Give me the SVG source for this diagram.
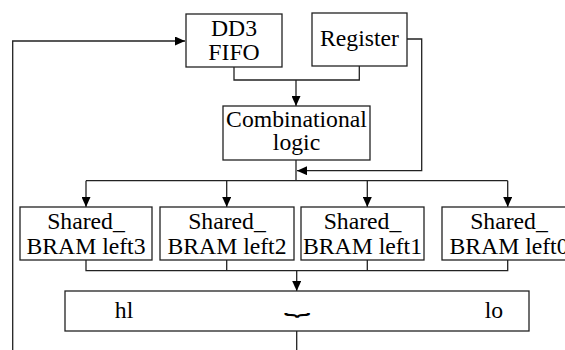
<svg xmlns="http://www.w3.org/2000/svg" width="565" height="350" viewBox="0 0 565 350">
<defs>
<marker id="ah" markerWidth="10" markerHeight="9" refX="10" refY="4.5" orient="auto" markerUnits="userSpaceOnUse">
<path d="M0,0 L10,4.5 L0,9 Z" fill="#000"/>
</marker>
<style>
.box{fill:#fff;stroke:#222;stroke-width:1.3}
.ln{fill:none;stroke:#222;stroke-width:1.3}
.t{font-size:23.7px;fill:#000;text-anchor:middle}
</style>
</defs>
<rect width="565" height="350" fill="#fff"/>
<g id="connectors">
<polyline class="ln" points="12.7,350 12.7,41 185,41" marker-end="url(#ah)"/>
<polyline class="ln" points="234,67 234,80 359.3,80 359.3,66"/>
<line class="ln" x1="296" y1="80" x2="296" y2="106" marker-end="url(#ah)"/>
<polyline class="ln" points="407,39 421.7,39 421.7,170.7 297,170.7" marker-end="url(#ah)"/>
<line class="ln" x1="296" y1="160" x2="296" y2="180.7"/>
<line class="ln" x1="86" y1="180.7" x2="507.7" y2="180.7"/>
<line class="ln" x1="86" y1="180.7" x2="86" y2="207" marker-end="url(#ah)"/>
<line class="ln" x1="226.7" y1="180.7" x2="226.7" y2="207" marker-end="url(#ah)"/>
<line class="ln" x1="367.3" y1="180.7" x2="367.3" y2="207" marker-end="url(#ah)"/>
<line class="ln" x1="507.7" y1="180.7" x2="507.7" y2="207" marker-end="url(#ah)"/>
<polyline class="ln" points="86,260 86,270.7 507.7,270.7 507.7,260"/>
<line class="ln" x1="226.7" y1="260" x2="226.7" y2="270.7"/>
<line class="ln" x1="367.3" y1="260" x2="367.3" y2="270.7"/>
<line class="ln" x1="296.7" y1="270.7" x2="296.7" y2="291" marker-end="url(#ah)"/>
<line class="ln" x1="296.7" y1="331" x2="296.7" y2="350"/>
</g>
<g font-family="Liberation Serif, Tinos, DejaVu Serif, serif">
<g id="fifo">
<rect class="box" x="186" y="14" width="96" height="53"/>
<text class="t" x="234" y="36">DD3</text>
<text class="t" x="234" y="60">FIFO</text>
</g>
<g id="register">
<rect class="box" x="312" y="13" width="95" height="53"/>
<text class="t" x="359.5" y="46">Register</text>
</g>
<g id="comb">
<rect class="box" x="223" y="106" width="147" height="54"/>
<text class="t" x="296.5" y="127">Combinational</text>
<text class="t" x="296.5" y="150">logic</text>
</g>
<g id="bram3">
<rect class="box" x="20" y="207" width="132" height="53"/>
<text class="t" x="86" y="228.5">Shared_</text>
<text class="t" x="86" y="253.5">BRAM left3</text>
</g>
<g id="bram2">
<rect class="box" x="160" y="207" width="134" height="53"/>
<text class="t" x="227" y="228.5">Shared_</text>
<text class="t" x="227" y="253.5">BRAM left2</text>
</g>
<g id="bram1">
<rect class="box" x="301" y="207" width="123" height="53"/>
<text class="t" x="362.5" y="228.5">Shared_</text>
<text class="t" x="362.5" y="253.5">BRAM left1</text>
</g>
<g id="bram0">
<rect class="box" x="442" y="207" width="134" height="53"/>
<text class="t" x="509" y="228.5">Shared_</text>
<text class="t" x="509" y="253.5">BRAM left0</text>
</g>
<g id="output">
<rect class="box" x="65" y="291" width="464" height="40"/>
<text class="t" x="124" y="318">hl</text>
<text class="t" x="494" y="318">lo</text>
<text transform="translate(297,311) scale(2,1)" x="0" y="0" style="font-family:'DejaVu Sans',sans-serif;font-size:22px;text-anchor:middle;fill:#000">⏟</text>
</g>
</g>
</svg>
